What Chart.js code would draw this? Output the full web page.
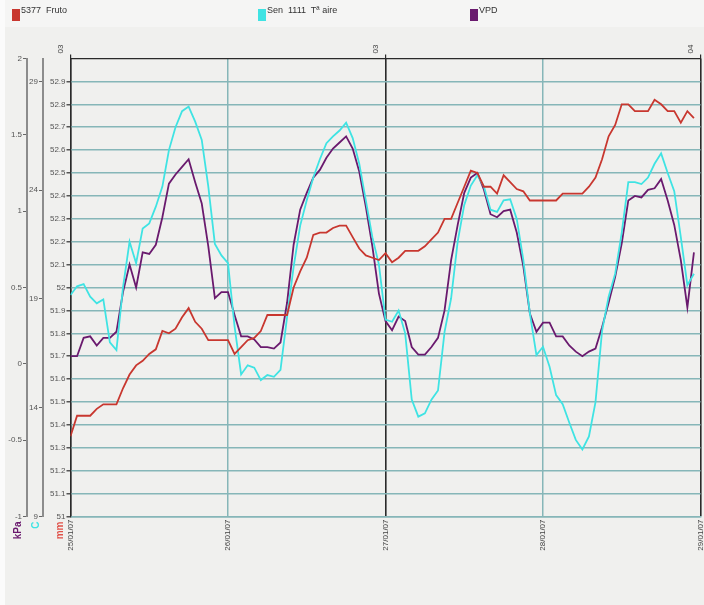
<!DOCTYPE html>
<html lang="es">
<head>
<meta charset="utf-8">
<title>Fruto / Tª aire / VPD</title>
<script src="https://cdn.jsdelivr.net/npm/chart.js@4.4.1/dist/chart.umd.min.js"></script>
<style>
  html, body { margin: 0; padding: 0; background: #f0f0ee; }
  #wrap { position: relative; width: 704px; height: 605px; }
  #legend { position: absolute; left: 0; top: 0; width: 704px; height: 27px;
            font: 9px "Liberation Sans", Arial, sans-serif; color: #333; }
  .item { position: absolute; top: 5px; display: flex; align-items: center; white-space: pre; }
  .box { width: 8px; height: 12px; margin-right: 1px; }
</style>
</head>
<body>
<div id="wrap">
  <canvas id="chart" width="704" height="605"></canvas>
  <div id="legend"></div>
</div>
<script>
// Datos: una lectura por hora desde 25/01/07 00:00
const hours = [
   0,  1,  2,  3,  4,  5,  6,  7,  8,  9, 10, 11, 12, 13, 14, 15, 16, 17, 18, 19, 20, 21, 22, 23,
  24, 25, 26, 27, 28, 29, 30, 31, 32, 33, 34, 35, 36, 37, 38, 39, 40, 41, 42, 43, 44, 45, 46, 47,
  48, 49, 50, 51, 52, 53, 54, 55, 56, 57, 58, 59, 60, 61, 62, 63, 64, 65, 66, 67, 68, 69, 70, 71,
  72, 73, 74, 75, 76, 77, 78, 79, 80, 81, 82, 83, 84, 85, 86, 87, 88, 89, 90, 91, 92, 93, 94, 95
];

// 5377 Fruto (mm)
const fruto = [
  51.35, 51.44, 51.44, 51.44, 51.47, 51.49, 51.49, 51.49, 51.56, 51.62,
  51.66, 51.68, 51.71, 51.73, 51.81, 51.80, 51.82, 51.87, 51.91, 51.85,
  51.82, 51.77, 51.77, 51.77, 51.77, 51.71, 51.74, 51.77, 51.78, 51.81,
  51.88, 51.88, 51.88, 51.88, 52.00, 52.07, 52.13, 52.23, 52.24, 52.24,
  52.26, 52.27, 52.27, 52.22, 52.17, 52.14, 52.13, 52.12, 52.15, 52.11,
  52.13, 52.16, 52.16, 52.16, 52.18, 52.21, 52.24, 52.30, 52.30, 52.37,
  52.44, 52.51, 52.50, 52.44, 52.44, 52.41, 52.49, 52.46, 52.43, 52.42,
  52.38, 52.38, 52.38, 52.38, 52.38, 52.41, 52.41, 52.41, 52.41, 52.44,
  52.48, 52.56, 52.66, 52.71, 52.80, 52.80, 52.77, 52.77, 52.77, 52.82,
  52.80, 52.77, 52.77, 52.72, 52.77, 52.74
];

// Sen 1111 Tª aire (C)
const tAire = [
  19.18, 19.58, 19.68, 19.10, 18.80, 18.98, 17.00, 16.65, 19.53, 21.63,
  20.64, 22.24, 22.47, 23.24, 24.16, 25.84, 26.89, 27.63, 27.84, 27.15,
  26.31, 24.16, 21.53, 21.00, 20.64, 17.74, 15.53, 15.95, 15.84, 15.27,
  15.50, 15.42, 15.74, 18.16, 20.47, 22.37, 23.53, 24.58, 25.42, 26.16,
  26.47, 26.74, 27.10, 26.39, 25.21, 23.53, 21.84, 20.58, 18.05, 17.95,
  18.47, 17.42, 14.37, 13.59, 13.74, 14.37, 14.79, 17.49, 19.03, 21.63,
  23.32, 24.21, 24.68, 24.16, 23.10, 23.00, 23.53, 23.58, 22.68, 20.79,
  18.34, 16.42, 16.80, 15.88, 14.58, 14.16, 13.32, 12.52, 12.08, 12.68,
  14.26, 17.53, 19.10, 20.16, 22.05, 24.37, 24.37, 24.28, 24.58, 25.21,
  25.69, 24.79, 23.95, 21.84, 19.63, 20.16
];

// VPD (kPa)
const vpd = [
  0.05, 0.05, 0.17, 0.18, 0.12, 0.17, 0.17, 0.21, 0.47, 0.65,
  0.50, 0.73, 0.72, 0.78, 0.96, 1.18, 1.24, 1.29, 1.34, 1.19,
  1.05, 0.77, 0.43, 0.47, 0.47, 0.32, 0.18, 0.18, 0.16, 0.11,
  0.11, 0.10, 0.14, 0.40, 0.78, 1.01, 1.12, 1.22, 1.27, 1.35,
  1.41, 1.45, 1.49, 1.41, 1.26, 1.03, 0.77, 0.46, 0.28, 0.22,
  0.31, 0.28, 0.11, 0.06, 0.06, 0.11, 0.17, 0.35, 0.68, 0.91,
  1.12, 1.22, 1.25, 1.14, 0.98, 0.96, 1.00, 1.01, 0.86, 0.64,
  0.33, 0.21, 0.27, 0.27, 0.18, 0.18, 0.12, 0.08, 0.05, 0.08,
  0.10, 0.24, 0.40, 0.57, 0.79, 1.07, 1.10, 1.09, 1.14, 1.15,
  1.21, 1.07, 0.91, 0.68, 0.37, 0.73
];

const seriesNames = ["5377  Fruto", "Sen  1111  T\u00aa aire", "VPD"];

// Ejes
const dayTickPos = [0, 24, 48, 72, 96];
const dayLabels = ["25/01/07", "26/01/07", "27/01/07", "28/01/07", "29/01/07"];
const weekTickPos = [0, 48, 96];
const weekLabels = ["03", "03", "04"];
const mmTicks = [51, 51.1, 51.2, 51.3, 51.4, 51.5, 51.6, 51.7, 51.8, 51.9,
                 52, 52.1, 52.2, 52.3, 52.4, 52.5, 52.6, 52.7, 52.8, 52.9];
const cTicks = [9, 14, 19, 24, 29];
const kpaTicks = [-1, -0.5, 0, 0.5, 1, 1.5, 2];

// Colores
const red = '#c8372f';
const cyan = '#3fe3e3';
const purple = '#6a1a6e';
const gridTeal = '#86b6b8';
const dark = '#2a2a2a';
const font = { family: '"Liberation Sans", Arial, sans-serif', size: 8 };
const tickText = '#555';

function toPoints(values) {
    return values.map((v, i) => ({ x: hours[i], y: v }));
}

function setTicks(list) {
    return scale => { scale.ticks = list.map(v => ({ value: v })); };
}

function fmt(v) {
    return String(+Number(v).toFixed(2));
}

// Altura fija del eje X, sin relleno lateral por las etiquetas giradas
function fixHeight(h) {
    return s => { s.height = h; s.paddingLeft = 0; s.paddingRight = 0; };
}

// Leyenda (HTML)
function renderLegend() {
    const colors = [red, cyan, purple];
    const lefts = [12, 258, 470];
    document.getElementById('legend').innerHTML = seriesNames.map((name, i) =>
        `<div class="item" style="left:${lefts[i]}px">
            <span class="box" style="background:${colors[i]}"></span>${name}
        </div>`
    ).join('');
}

// Fondo
const background = {
    id: 'background',
    beforeDraw(chart) {
        const c = chart.ctx;
        c.save();
        c.fillStyle = '#f0f0ee';
        c.fillRect(0, 0, chart.width, chart.height);
        c.fillStyle = '#f5f5f4';
        c.fillRect(0, 0, chart.width, 27);
        c.fillStyle = '#fbfbfb';
        c.fillRect(0, 0, 5, chart.height);
        c.restore();
    }
};

// Unidades debajo de cada eje
const axisTitles = {
    id: 'axisTitles',
    afterDraw(chart) {
        const c = chart.ctx;
        const items = [['kpa', 'kPa', purple, 9], ['c', 'C', cyan, 7], ['mm', 'mm', '#e0524a', 10]];
        c.save();
        c.font = 'bold 10px "Liberation Sans", Arial, sans-serif';
        c.textAlign = 'right';
        c.textBaseline = 'middle';
        items.forEach(([id, text, color, off]) => {
            const s = chart.scales[id];
            c.save();
            c.translate(s.right - off, s.bottom + 5);
            c.rotate(-Math.PI / 2);
            c.fillStyle = color;
            c.fillText(text, 0, 0);
            c.restore();
        });
        c.restore();
    }
};

function lineSet(label, data, color, axis) {
    return {
        label, data: toPoints(data), yAxisID: axis, xAxisID: 'x',
        borderColor: color, backgroundColor: color, borderWidth: 1.8,
        pointRadius: 0, tension: 0, fill: false
    };
}

function sideAxis(weight, min, max, ticks, width, extra) {
    return Object.assign({
        type: 'linear', position: 'left', weight, min, max,
        afterBuildTicks: setTicks(ticks),
        afterFit: s => { s.width = width; },
        ticks: { font, color: tickText, padding: 1, callback: v => fmt(v) },
        grid: { drawOnChartArea: false, tickLength: 4, color: '#666' },
        border: { color: '#8c8c8c', width: 2 }
    }, extra || {});
}

function main() {
    renderLegend();
    new Chart(document.getElementById('chart').getContext('2d'), {
        type: 'line',
        data: {
            datasets: [
                lineSet(seriesNames[0], fruto, red, 'mm'),
                lineSet(seriesNames[1], tAire, cyan, 'c'),
                lineSet(seriesNames[2], vpd, purple, 'kpa')
            ]
        },
        options: {
            responsive: false,
            animation: false,
            layout: { padding: { left: 0, right: 3.5, top: 0, bottom: 0 } },
            plugins: { legend: { display: false }, tooltip: { enabled: false } },
            scales: {
                x: {
                    type: 'linear', position: 'bottom', min: 0, max: 96,
                    afterBuildTicks: setTicks(dayTickPos),
                    afterFit: fixHeight(88.5),
                    ticks: { font, color: '#444', padding: 3, minRotation: 90, maxRotation: 90,
                             autoSkip: false, callback: (v, i) => dayLabels[i] },
                    grid: { color: ctx => (ctx.tick && ctx.tick.value % 48 === 0) ? dark : gridTeal,
                            lineWidth: 1.5, drawTicks: false },
                    border: { color: gridTeal, width: 1.5 }
                },
                x2: {
                    type: 'linear', position: 'top', min: 0, max: 96,
                    afterBuildTicks: setTicks(weekTickPos),
                    afterFit: fixHeight(58.5),
                    ticks: { font, color: '#444', padding: 1, minRotation: 90, maxRotation: 90,
                             autoSkip: false, callback: (v, i) => weekLabels[i] },
                    grid: { color: dark, lineWidth: 1.2, tickLength: 4 },
                    border: { color: dark, width: 1.2 }
                },
                kpa: sideAxis(2, -1, 2, kpaTicks, 27),
                c: sideAxis(1, 9, 30.05, cTicks, 16),
                mm: sideAxis(0, 51, 53, mmTicks, 27.5, {
                    grid: { color: gridTeal, lineWidth: 1.5, tickLength: 4, tickColor: '#555' },
                    border: { color: dark, width: 1.2 }
                })
            }
        },
        plugins: [background, axisTitles]
    });
}

window.addEventListener('DOMContentLoaded', main);
</script>
</body>
</html>
